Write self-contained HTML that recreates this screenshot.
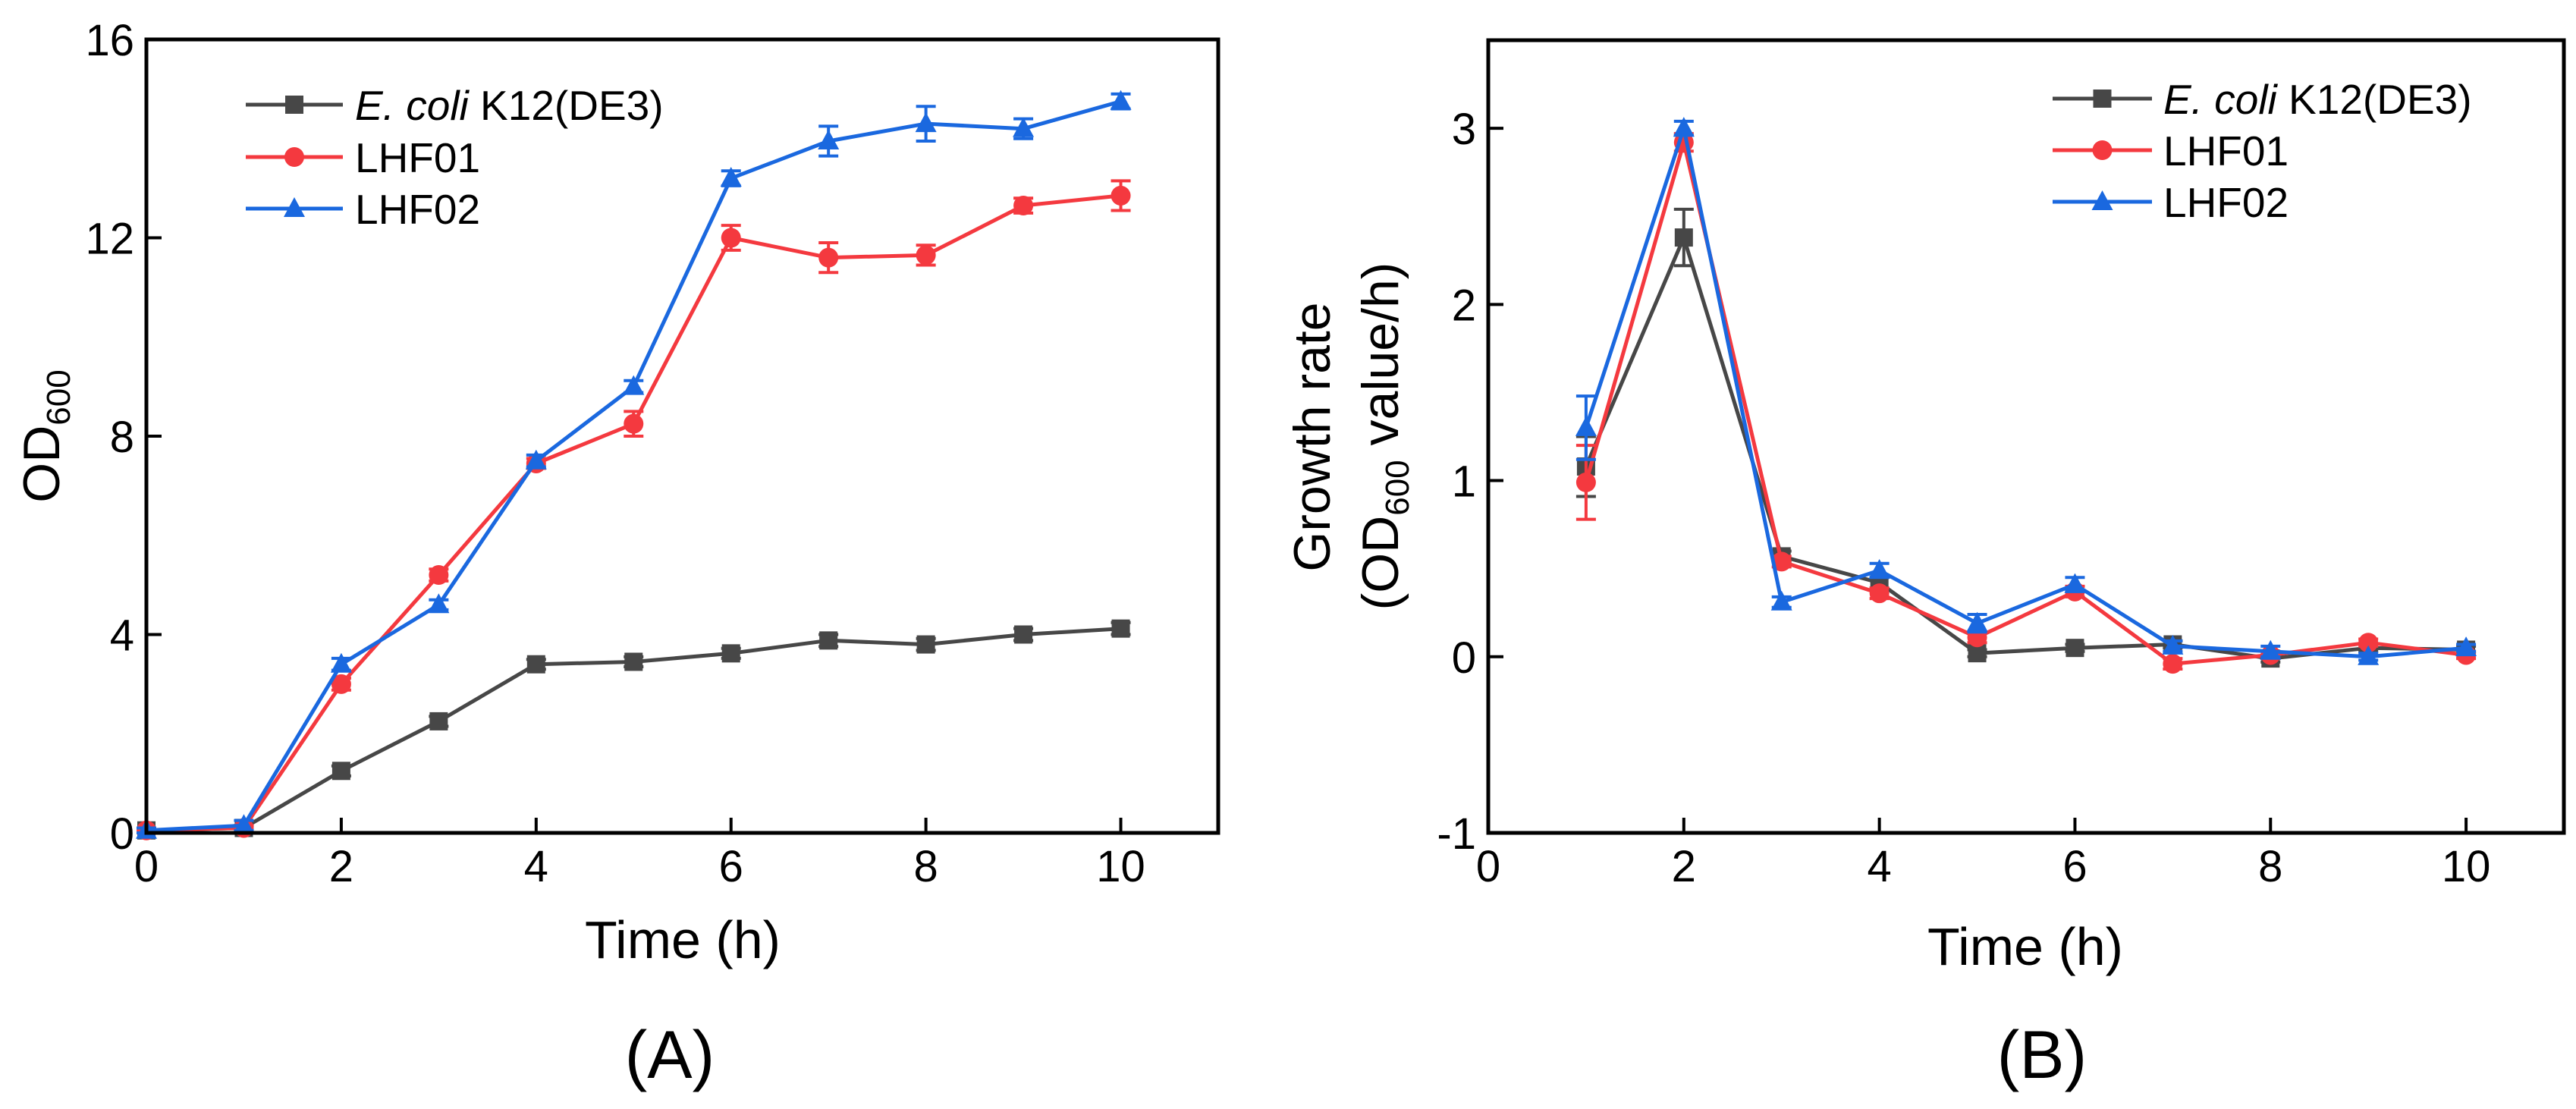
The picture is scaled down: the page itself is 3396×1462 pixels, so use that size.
<!DOCTYPE html>
<html><head><meta charset="utf-8"><style>
html,body{margin:0;padding:0;background:#fff}
svg{display:block}
text{font-family:"Liberation Sans",Arial,sans-serif;fill:#000}
</style></head><body>
<svg id="chart" width="3396" height="1462" viewBox="0 0 3396 1462" xmlns="http://www.w3.org/2000/svg">
<rect width="3396" height="1462" fill="#fff"/>
<g id="panelA"></g>
<g id="panelB"></g>
</svg>
<script>
const seriesNames = ["E. coli K12(DE3)", "LHF01", "LHF02"];
const colors = ["#474747", "#f4393f", "#1a68df"];
const timeA = [0,1,2,3,4,5,6,7,8,9,10];
const odK12 = [0.05,0.1,1.25,2.25,3.4,3.45,3.62,3.88,3.8,4.0,4.12];
const odLHF01 = [0.05,0.1,3.0,5.2,7.45,8.25,12.0,11.6,11.65,12.65,12.85];
const odLHF02 = [0.05,0.15,3.4,4.6,7.5,9.0,13.2,13.95,14.3,14.2,14.75];
const odErrK12 = [0.05,0.05,0.1,0.1,0.1,0.1,0.1,0.12,0.12,0.12,0.12];
const odErrLHF01 = [0.05,0.05,0.12,0.12,0.1,0.25,0.25,0.3,0.2,0.15,0.3];
const odErrLHF02 = [0.05,0.1,0.12,0.1,0.12,0.12,0.15,0.3,0.35,0.2,0.15];
const timeB = [1,2,3,4,5,6,7,8,9,10];
const grK12 = [1.08,2.38,0.57,0.42,0.02,0.05,0.07,-0.01,0.05,0.04];
const grLHF01 = [0.99,2.92,0.54,0.36,0.11,0.37,-0.04,0.01,0.08,0.01];
const grLHF02 = [1.3,3.0,0.31,0.49,0.19,0.41,0.06,0.03,0.0,0.05];
const grErrK12 = [0.17,0.16,0.03,0.03,0.02,0.02,0.02,0.02,0.02,0.02];
const grErrLHF01 = [0.21,0.05,0.03,0.03,0.03,0.03,0.03,0.02,0.02,0.02];
const grErrLHF02 = [0.18,0.04,0.03,0.04,0.05,0.04,0.03,0.03,0.02,0.02];
const xTicks = [0,2,4,6,8,10];
const yTicksA = [0,4,8,12,16];
const yTicksB = [-1,0,1,2,3];

const NS="http://www.w3.org/2000/svg";
function mk(tag,attrs,parent){const e=document.createElementNS(NS,tag);for(const k in attrs)e.setAttribute(k,attrs[k]);parent.appendChild(e);return e;}

function panel(g,cfg){
  const {L,R,T,B,xmin,xmax,ymin,ymax}=cfg;
  const sx=v=>L+(v-xmin)/(xmax-xmin)*(R-L);
  const sy=v=>B-(v-ymin)/(ymax-ymin)*(B-T);
  // series
  cfg.series.forEach((s,i)=>{
    const sg=mk('g',{},g);
    
    
    const pts=s.x.map((x,j)=>sx(x).toFixed(1)+','+sy(s.y[j]).toFixed(1)).join(' ');
    const pl=mk('polyline',{points:pts,fill:'none',stroke:colors[i],'stroke-width':5,'stroke-linejoin':'round'},sg);
    
    
    s.x.forEach((x,j)=>{
      const cx=sx(x),cy=sy(s.y[j]),e=s.e[j];
      const y1=sy(s.y[j]+e),y2=sy(s.y[j]-e);
      const eb=mk('path',{d:`M${cx},${y1}V${y2}M${cx-13},${y1}H${cx+13}M${cx-13},${y2}H${cx+13}`,stroke:colors[i],'stroke-width':4,fill:'none'},sg);
      
      
      const m=marker(sg,i,cx,cy);
      
      
    });
  });
  // frame
  const fr=mk('rect',{x:L,y:T,width:R-L,height:B-T,fill:'none',stroke:'#000','stroke-width':5},g);
  
  
  xTicks.forEach(v=>{
    const x=sx(v);
    const t=mk('line',{x1:x,x2:x,y1:B,y2:B-20,stroke:'#000','stroke-width':4},g);
    
    
    const tx=mk('text',{x:x,y:1162,'text-anchor':'middle','font-size':58},g);
    tx.textContent=v;
    
    
  });
  cfg.yTicks.forEach(v=>{
    const y=sy(v);
    const t=mk('line',{x1:L,x2:L+20,y1:y,y2:y,stroke:'#000','stroke-width':4},g);
    
    
    const tx=mk('text',{x:L-16,y:y+21,'text-anchor':'end','font-size':58},g);
    tx.textContent=v;
    
    
  });
}
function marker(g,i,cx,cy){
  if(i===0) return mk('rect',{x:cx-12,y:cy-12,width:24,height:24,fill:colors[0]},g);
  if(i===1) return mk('circle',{cx:cx,cy:cy,r:13,fill:colors[1]},g);
  return mk('polygon',{points:`${cx},${cy-15} ${cx+14},${cy+11} ${cx-14},${cy+11}`,fill:colors[2]},g);
}
function legend(g,x0,x1,tx,ys){
  seriesNames.forEach((n,i)=>{
    const lg=mk('g',{},g);
    
    
    mk('line',{x1:x0,x2:x1,y1:ys[i],y2:ys[i],stroke:colors[i],'stroke-width':5},lg);
    marker(lg,i,(x0+x1)/2,ys[i]);
    const t=mk('text',{x:tx,y:ys[i]+20,'font-size':55},lg);
    if(i===0){t.innerHTML='<tspan font-style="italic">E. coli</tspan> K12(DE3)';}
    else t.textContent=n;
  });
}
const gA=document.getElementById('panelA'), gB=document.getElementById('panelB');
panel(gA,{L:193,R:1606,T:52,B:1098,xmin:0,xmax:11,ymin:0,ymax:16,yTicks:yTicksA,series:[
  {key:'k12',x:timeA,y:odK12,e:odErrK12},{key:'lhf01',x:timeA,y:odLHF01,e:odErrLHF01},{key:'lhf02',x:timeA,y:odLHF02,e:odErrLHF02}]});
panel(gB,{L:1962,R:3380,T:53,B:1098,xmin:0,xmax:11,ymin:-1,ymax:3.5,yTicks:yTicksB,series:[
  {key:'k12',x:timeB,y:grK12,e:grErrK12},{key:'lhf01',x:timeB,y:grLHF01,e:grErrLHF01},{key:'lhf02',x:timeB,y:grLHF02,e:grErrLHF02}]});
legend(gA,324,452,468,[138,207,275]);
legend(gB,2706,2837,2852,[130,198,266]);
</script>
<svg style="position:absolute;left:0;top:0" width="3396" height="1462">
<text x="900" y="1263" text-anchor="middle" font-size="70">Time (h)</text>
<text x="2670" y="1272" text-anchor="middle" font-size="70">Time (h)</text>
<text x="883" y="1421" text-anchor="middle" font-size="89">(A)</text>
<text x="2692" y="1421" text-anchor="middle" font-size="89">(B)</text>
<text transform="translate(78,575) rotate(-90)" text-anchor="middle" font-size="68">OD<tspan font-size="44" dy="14">600</tspan></text>
<text transform="translate(1753,576) rotate(-90)" text-anchor="middle" font-size="68">Growth rate</text>
<text transform="translate(1843,575) rotate(-90)" text-anchor="middle" font-size="68">(OD<tspan font-size="44" dy="14">600</tspan><tspan dy="-14"> value/h)</tspan></text>
</svg>
</body></html>
